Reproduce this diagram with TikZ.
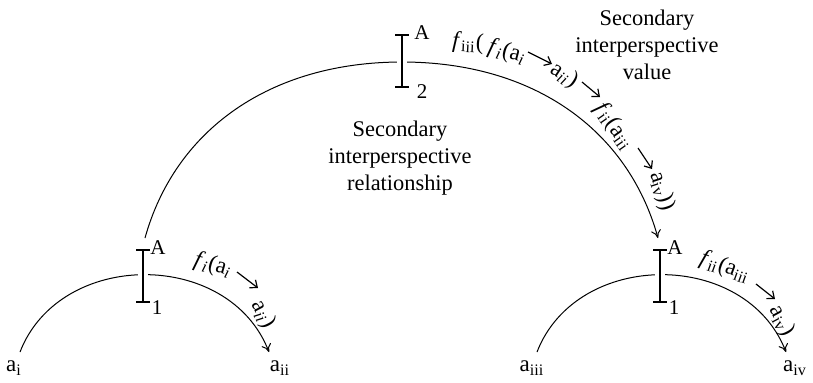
\documentclass[tikz,border=0pt]{standalone}
\usepackage{fontspec}
\setmainfont{Liberation Serif}
\usetikzlibrary{arrows.meta}
\newcommand{\mysb}[1]{\textsubscript{#1}}
\newcommand{\myit}[1]{\textsubscript{\textit{#1}}}
\begin{document}
\begin{tikzpicture}[x=0.5pt,y=-0.5pt,
  font=\fontsize{11}{13.5}\selectfont,
  arc/.style={line width=0.5pt, -{To[length=4pt,width=5pt]}},
  txtarrow/.style={line width=0.6pt, -{Straight Barb[length=3pt,width=5pt]}},
  barline/.style={line width=1.3pt},
  gapline/.style={white, line width=5pt},
  lbl/.style={inner sep=0pt, font=\fontsize{11.6}{12}\selectfont},
  tick/.style={inner sep=0pt, font=\fontsize{10.5}{12}\selectfont},
  leaf/.style={inner sep=0pt, font=\fontsize{11.5}{13}\selectfont},
  note/.style={inner sep=0pt, align=center, font=\fontsize{11.2}{13.4}\selectfont}]
\useasboundingbox (0,0) rectangle (813,382);

% endpoints of arcs
\coordinate (s1) at (20,352);
\coordinate (e1) at (269,352);
\coordinate (s3) at (537,352);
\coordinate (e3) at (786,352);
\coordinate (s2) at (145,238);
\coordinate (top2) at (402,62);
\coordinate (e2) at (658,238);

% arcs
\draw[arc] (s1) .. controls (60,249) and (229,249) .. (e1);
\draw[arc] (s3) .. controls (577,249) and (746,249) .. (e3);
\draw[arc] (s2) .. controls (175,130) and (270,62) .. (top2)
               .. controls (534,62) and (628,130) .. (e2);

% brackets
\foreach \n/\x/\y in {b1/143/276, b2/402/61, b3/660/276}{
  \coordinate (\n) at (\x,\y);
  \draw[gapline] ([yshift=-6pt]\n) -- ([yshift=6pt]\n);
  \draw[barline] ([yshift=-13pt]\n) -- ([yshift=13pt]\n)
     ([xshift=-3.4pt,yshift=13pt]\n) -- ([xshift=3.4pt,yshift=13pt]\n)
     ([xshift=-3.4pt,yshift=-13pt]\n) -- ([xshift=3.4pt,yshift=-13pt]\n);
}
\node[tick] (A1) at (158,248) {A};
\node[tick] (n1) at (157,308) {1};
\node[tick] (A2) at (422,33) {A};
\node[tick] (n2) at (422,92) {2};
\node[tick] (A3) at (675,248) {A};
\node[tick] (n3) at (674,308) {1};

% leaves
\node[leaf] (ai) at (14,368) {a\mysb{i}};
\node[leaf] (aii) at (280,368) {a\mysb{ii}};
\node[leaf] (aiii) at (532,368) {a\mysb{iii}};
\node[leaf] (aiv) at (795,368) {a\mysb{iv}};

% notes
\node[note] (rel) at (400,158) {Secondary\\interperspective\\relationship};
\node[note] (val) at (647,45) {Secondary\\interperspective\\value};

% left small label
\node[lbl, rotate=-16] (L1) at (213,265) {\textit{f}\myit{i}(a\myit{i}};
\coordinate (L2a) at (237,272); \coordinate (L2b) at (258,288);
\draw[txtarrow] (L2a) -- (L2b);
\node[lbl, rotate=-62] (L3) at (263,314) {a\myit{ii})};

% right small label
\node[lbl, rotate=-20] (R1) at (725,267) {\textit{f}\mysb{ii}(a\mysb{iii}};
\coordinate (R2a) at (756,284); \coordinate (R2b) at (775,299);
\draw[txtarrow] (R2a) -- (R2b);
\node[lbl, rotate=-62] (R3) at (782,321) {a\mysb{iv})};

% big label
\node[lbl, rotate=-3] (P1) at (468,43) {\textit{f}\mysb{iii}(};
\node[lbl, rotate=-15] (P2) at (507,52) {\textit{f}\myit{i}(a\myit{i}};
\coordinate (P3a) at (528,52); \coordinate (P3b) at (552,64);
\draw[txtarrow] (P3a) -- (P3b);
\node[lbl, rotate=-33] (P4) at (564,75) {a\myit{ii})};
\coordinate (P5a) at (582,82); \coordinate (P5b) at (600,97);
\draw[txtarrow] (P5a) -- (P5b);
\node[lbl, rotate=-55] (P6) at (614,126) {\textit{f}\mysb{ii}(a\mysb{iii}};
\coordinate (P7a) at (638,148); \coordinate (P7b) at (652,169);
\draw[txtarrow] (P7a) -- (P7b);
\node[lbl, rotate=-72] (P8) at (662,191) {a\mysb{iv}))};
\end{tikzpicture}
\end{document}
